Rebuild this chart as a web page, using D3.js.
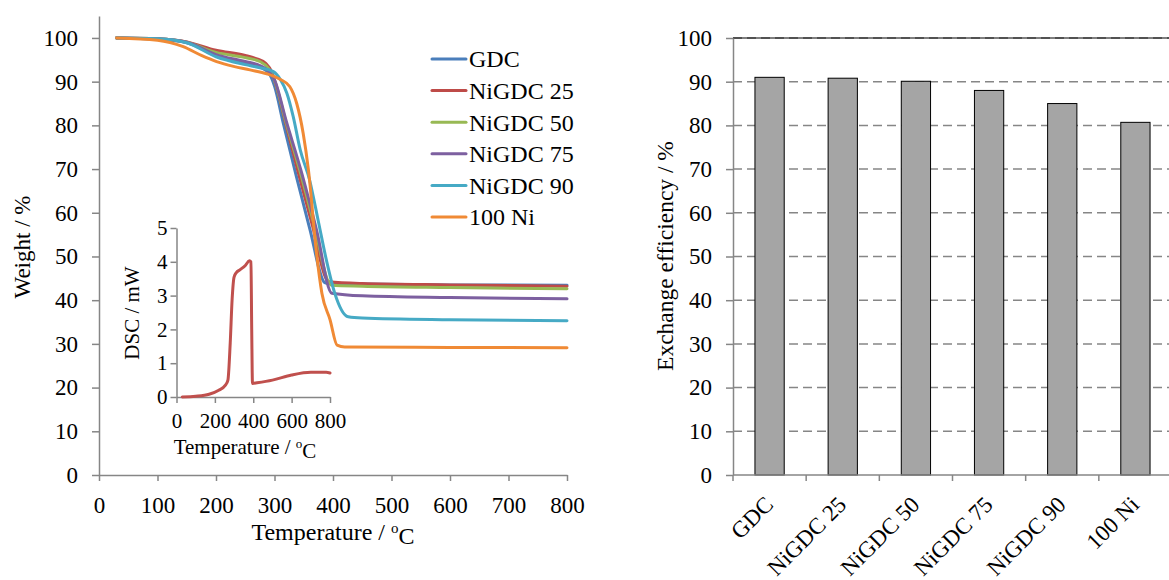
<!DOCTYPE html>
<html><head><meta charset="utf-8">
<script src="https://cdn.jsdelivr.net/npm/d3@7"></script>
<style>
body{margin:0;background:#fff}
svg text{font-family:"Liberation Serif","Times New Roman",serif !important;fill:#000}
</style>
</head><body>
<svg id="chart" width="1169" height="580" font-family="Liberation Serif"></svg>
<script>
// ---------- DATA ----------
const seriesNames = ["GDC","NiGDC 25","NiGDC 50","NiGDC 75","NiGDC 90","100 Ni"];
const seriesColors = ["#4a7ebb","#be4b48","#98b954","#7d60a0","#46aac5","#f08a35"];

const tgaGDC = [[30,100],[100,99.7],[150,98.9],[200,96.0],[250,94.3],[275,93.3],[290,92.0],[300,89.0],[315,80.5],[338,68.0],[360,56.5],[386,44.0],[392,43.8],[450,43.7],[600,43.5],[800,43.4]];
const tgaNiGDC25 = [[30,100],[100,99.8],[150,99.1],[200,97.2],[250,96.0],[270,95.2],[285,94.2],[295,92.3],[305,88.0],[320,80.0],[340,69.5],[365,57.0],[388,45.0],[393,44.2],[450,43.8],[600,43.5],[800,43.2]];
const tgaNiGDC50 = [[30,100],[100,99.8],[150,99.0],[200,96.7],[250,95.5],[275,94.6],[290,93.0],[300,90.3],[320,80.5],[343,69.8],[370,56.0],[392,44.2],[398,43.4],[450,43.2],[600,42.9],[800,42.6]];
const tgaNiGDC75 = [[30,100],[100,99.8],[150,99.0],[200,96.2],[250,94.6],[275,93.7],[290,92.4],[300,90.4],[320,81.0],[345,69.8],[372,56.0],[398,41.6],[450,41.0],[600,40.6],[800,40.3]];
const tgaNiGDC90 = [[30,100],[100,99.8],[150,98.9],[200,95.7],[250,93.9],[275,93.2],[298,92.3],[310,90.5],[321,87.4],[332,82.0],[344,74.4],[360,67.5],[375,58.0],[389,49.0],[403,41.6],[426,36.2],[450,35.9],[600,35.5],[800,35.3]];
const tgaNi100 = [[30,100],[100,99.5],[144,98.0],[175,96.0],[201,94.6],[230,93.5],[258,92.7],[287,91.8],[310,90.5],[326,88.9],[338,85.0],[349,78.2],[358,69.8],[372,50.5],[381,41.6],[395,35.5],[407,29.7],[420,29.3],[600,29.2],[800,29.1]];

const dscCurve = [[30,0],[100,0.02],[170,0.08],[220,0.2],[255,0.35],[268,0.5],[280,1.6],[290,2.9],[300,3.55],[312,3.68],[330,3.76],[360,3.9],[380,4.03],[388,4.0],[392,2.0],[396,0.4],[420,0.42],[500,0.5],[600,0.65],[700,0.73],[780,0.73],[800,0.71]];

const barCategories = ["GDC","NiGDC 25","NiGDC 50","NiGDC 75","NiGDC 90","100 Ni"];
const barValues = [91.0, 90.8, 90.1, 88.0, 85.0, 80.7];

const weightTicks = [0,10,20,30,40,50,60,70,80,90,100];
const tempTicks = [0,100,200,300,400,500,600,700,800];
const dscTicks = [0,1,2,3,4,5];
const dscTempTicks = [0,200,400,600,800];
const efficiencyTicks = [0,10,20,30,40,50,60,70,80,90,100];

// ---------- DRAW ----------
const svg = d3.select("#chart");
const axisColor = "#868686";
const serif = '"Liberation Serif","Times New Roman",serif';
const tgaSeries = [tgaGDC,tgaNiGDC25,tgaNiGDC50,tgaNiGDC75,tgaNiGDC90,tgaNi100];
const fmt = d3.format("d");

function styleAxis(g, fs){
  g.attr("font-family",null).attr("font-size",null);
  g.select(".domain").attr("stroke",axisColor).attr("stroke-width",1.5);
  g.selectAll(".tick line").attr("stroke",axisColor).attr("stroke-width",1.5);
  g.selectAll(".tick text").style("font-family",serif).style("font-size",fs+"px").attr("fill","#000");
}
function txt(sel, fs){ return sel.style("font-family",serif).style("font-size",fs+"px"); }

// Left main chart
const x = d3.scaleLinear([0,800],[99,567]);
const y = d3.scaleLinear([0,105],[475,16.1]);

const gx = svg.append("g").attr("transform","translate(0,475)")
  .call(d3.axisBottom(x).tickValues(tempTicks).tickFormat(fmt).tickSize(6).tickSizeOuter(0).tickPadding(16));
styleAxis(gx,23);
const gy = svg.append("g").attr("transform","translate(99,0)")
  .call(d3.axisLeft(y).tickValues(weightTicks).tickFormat(fmt).tickSize(7).tickSizeOuter(0).tickPadding(14));
styleAxis(gy,23);

const line = d3.line().x(d=>x(d[0])).y(d=>y(d[1])).curve(d3.curveMonotoneX);
svg.append("g").selectAll("path").data(tgaSeries).join("path")
  .attr("d",line).attr("fill","none")
  .attr("stroke",(d,i)=>seriesColors[i]).attr("stroke-width",3)
  .attr("stroke-linejoin","round").attr("stroke-linecap","round");

// axis titles
txt(svg.append("text").attr("transform","translate(30,247) rotate(-90)")
  .attr("text-anchor","middle"),23).text("Weight / %");
const xt = txt(svg.append("text").attr("x",333).attr("y",540).attr("text-anchor","middle"),24);
xt.append("tspan").text("Temperature / ");
xt.append("tspan").attr("dy","-0.45em").style("font-size","15px").text("o");
xt.append("tspan").attr("dy","0.45em").text("C");

// legend
const leg = svg.append("g");
seriesNames.forEach((n,i)=>{
  const yy = 59 + i*31.6;
  leg.append("line").attr("x1",432).attr("x2",466).attr("y1",yy).attr("y2",yy)
    .attr("stroke",seriesColors[i]).attr("stroke-width",3).attr("stroke-linecap","round");
  txt(leg.append("text").attr("x",469).attr("y",yy).attr("dy","0.35em"),24).text(n);
});

// Inset DSC
const xi = d3.scaleLinear([0,800],[176.5,330]);
const yi = d3.scaleLinear([0,5],[397,228]);
const gxi = svg.append("g").attr("transform","translate(0,397)")
  .call(d3.axisBottom(xi).tickValues(dscTempTicks).tickFormat(fmt).tickSize(6).tickSizeOuter(0).tickPadding(10));
styleAxis(gxi,21);
const gyi = svg.append("g").attr("transform","translate(176.5,0)")
  .call(d3.axisLeft(yi).tickValues(dscTicks).tickFormat(fmt).tickSize(6).tickSizeOuter(0).tickPadding(3));
styleAxis(gyi,21);
svg.append("path").datum(dscCurve)
  .attr("d",d3.line().x(d=>xi(d[0])).y(d=>yi(d[1])).curve(d3.curveMonotoneX))
  .attr("fill","none").attr("stroke","#c0504d").attr("stroke-width",3)
  .attr("stroke-linejoin","round").attr("stroke-linecap","round");
txt(svg.append("text").attr("transform","translate(139,313) rotate(-90)")
  .attr("text-anchor","middle"),21).text("DSC / mW");
const xti = txt(svg.append("text").attr("x",245).attr("y",454).attr("text-anchor","middle"),21);
xti.append("tspan").text("Temperature / ");
xti.append("tspan").attr("dy","-0.45em").style("font-size","13px").text("o");
xti.append("tspan").attr("dy","0.45em").text("C");

// Right bar chart
const xb = d3.scaleBand(barCategories,[733,1172]).paddingInner(0.6).paddingOuter(0.3);
const yb = d3.scaleLinear([0,100],[475,38]);
const step = xb.step();

svg.append("g").selectAll("line").data(efficiencyTicks.filter(t=>t>0)).join("line")
  .attr("x1",733).attr("x2",1172).attr("y1",d=>yb(d)).attr("y2",d=>yb(d))
  .attr("stroke",axisColor).attr("stroke-width",1.5).attr("stroke-dasharray","9,5");
svg.append("line").attr("x1",733).attr("x2",1172).attr("y1",yb(100)).attr("y2",yb(100))
  .attr("stroke","#000").attr("stroke-width",1);

svg.append("g").selectAll("rect").data(barValues).join("rect")
  .attr("x",(d,i)=>xb(barCategories[i])).attr("width",xb.bandwidth())
  .attr("y",d=>yb(d)).attr("height",d=>yb(0)-yb(d))
  .attr("fill","#a5a5a5").attr("stroke","#000").attr("stroke-width",1);

const gyb = svg.append("g").attr("transform","translate(733,0)")
  .call(d3.axisLeft(yb).tickValues(efficiencyTicks).tickFormat(fmt).tickSize(7).tickSizeOuter(0).tickPadding(14));
styleAxis(gyb,23);
const gxb = svg.append("g");
gxb.append("line").attr("x1",733).attr("x2",1172).attr("y1",475).attr("y2",475)
  .attr("stroke",axisColor).attr("stroke-width",1.5);
gxb.selectAll("line.t").data(d3.range(barCategories.length+1)).join("line").attr("class","t")
  .attr("x1",i=>733+i*step).attr("x2",i=>733+i*step).attr("y1",475).attr("y2",481)
  .attr("stroke",axisColor).attr("stroke-width",1.5);
txt(gxb.selectAll("text").data(barCategories).join("text")
  .attr("transform",d=>`translate(${xb(d)+xb.bandwidth()/2+5},506) rotate(-45)`)
  .attr("text-anchor","end"),23).text(d=>d);

txt(svg.append("text").attr("transform","translate(673,256) rotate(-90)")
  .attr("text-anchor","middle"),23.5).text("Exchange efficiency / %");
</script>
</body></html>
